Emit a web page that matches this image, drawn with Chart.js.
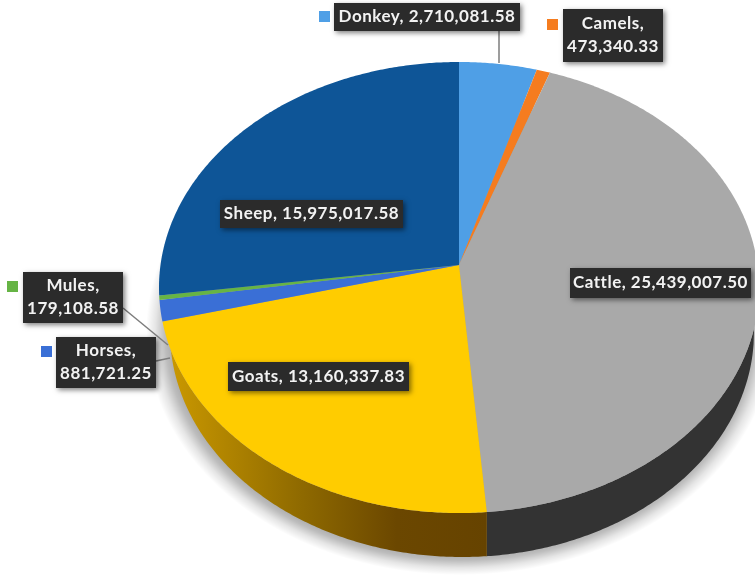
<!DOCTYPE html>
<html>
<head>
<meta charset="utf-8">
<title>Livestock population by type</title>
<style>
  html, body { margin: 0; padding: 0; background: #fff; }
  canvas { display: block; }
</style>
<script src="https://cdn.jsdelivr.net/npm/chart.js@4"></script>
</head>
<body>
<canvas id="pie" width="755" height="575"></canvas>
<script>
const categories = ['Donkey', 'Camels', 'Cattle', 'Goats', 'Horses', 'Mules', 'Sheep'];
const livestock = [2710081.58, 473340.33, 25439007.50, 13160337.83, 881721.25, 179108.58, 15975017.58];
const sliceColors = ['#4f9fe6', '#f57c1f', '#a9a9a9', '#ffcc00', '#3a6fd6', '#66b445', '#0e5597'];

// Tilted-disc geometry: the flat pie is seen from above with mild perspective.
const PERSPECTIVE = 0.0998;
const SQUASH = 0.748;
const STEP = Math.PI / 360;
// Lower edge of the extruded side wall.
const BASE = { cx: 462, cy: 332, rx: 292, ry: 225 };

function project(arc, angle, radius) {
  const u = Math.cos(angle), v = Math.sin(angle);
  const d = 1 - PERSPECTIVE * v;
  return { x: arc.x + radius * u / d, y: arc.y + radius * SQUASH * v / d };
}

function baseY(x, rimY) {
  const t = (x - BASE.cx) / BASE.rx;
  if (Math.abs(t) >= 1) return rimY;
  return Math.max(rimY, BASE.cy + BASE.ry * Math.sqrt(1 - t * t));
}

function wallFill(ctx, index) {
  if (categories[index] === 'Cattle') return '#333333';
  const g = ctx.createLinearGradient(165, 0, 487, 0);
  g.addColorStop(0, '#cc9a00');
  g.addColorStop(0.42, '#8f6a00');
  g.addColorStop(0.72, '#6b4700');
  g.addColorStop(1, '#664300');
  return g;
}

class ProjectedArc extends Chart.ArcElement {
  static id = 'projectedArc';

  rim() {
    const pts = [];
    for (let a = this.startAngle; a < this.endAngle; a += STEP) pts.push(project(this, a, this.outerRadius));
    pts.push(project(this, this.endAngle, this.outerRadius));
    return pts;
  }

  // Rim points on the near half of the disc, the only part whose wall shows.
  nearRim() {
    const pts = [];
    for (let a = this.startAngle; a < this.endAngle; a += STEP) {
      if (Math.sin(a) >= 0) pts.push(project(this, a, this.outerRadius));
    }
    if (Math.sin(this.endAngle) >= 0) pts.push(project(this, this.endAngle, this.outerRadius));
    return pts;
  }

  draw(ctx) {
    const rim = this.rim();
    const near = this.nearRim();
    const name = categories[this.$context.dataIndex];
    ctx.save();
    if (near.length > 1 && (name === 'Cattle' || name === 'Goats')) {
      ctx.beginPath();
      near.forEach((p, i) => i ? ctx.lineTo(p.x, p.y) : ctx.moveTo(p.x, p.y));
      for (let i = near.length - 1; i >= 0; i--) ctx.lineTo(near[i].x, baseY(near[i].x, near[i].y));
      ctx.closePath();
      ctx.fillStyle = wallFill(ctx, this.$context.dataIndex);
      ctx.fill();
    }
    ctx.beginPath();
    ctx.moveTo(this.x, this.y);
    rim.forEach(p => ctx.lineTo(p.x, p.y));
    ctx.closePath();
    ctx.fillStyle = this.options.backgroundColor;
    ctx.fill();
    ctx.restore();
  }
}

class ProjectedPieController extends Chart.PieController {
  static id = 'projectedPie';
  static defaults = { dataElementType: 'projectedArc' };
}

Chart.register(ProjectedArc, ProjectedPieController);

// Soft halo that the solid pie casts on the page, fading out past the base.
const castShadow = {
  id: 'castShadow',
  beforeDatasetsDraw(chart) {
    const ctx = chart.ctx;
    ctx.save();
    ctx.translate(BASE.cx - 2, BASE.cy);
    ctx.scale(BASE.rx + 22, BASE.ry + 18);
    const halo = ctx.createRadialGradient(0, 0, 0.9, 0, 0, 1);
    halo.addColorStop(0, 'rgba(0,0,0,0.38)');
    halo.addColorStop(0.4, 'rgba(0,0,0,0.26)');
    halo.addColorStop(0.7, 'rgba(0,0,0,0.1)');
    halo.addColorStop(1, 'rgba(0,0,0,0)');
    ctx.fillStyle = halo;
    ctx.beginPath();
    ctx.arc(0, 0, 1, 0, Math.PI * 2);
    ctx.fill();
    ctx.restore();
  }
};

// Callout placement for each category.
const callouts = {
  Donkey: { box: [334, 3, 186, 28], lines: 1, key: [319, 11], leader: [[499, 31], [499, 63]] },
  Camels: { box: [563, 9, 100, 53], lines: 2, key: [547, 19] },
  Cattle: { box: [570, 268, 181, 30], lines: 1 },
  Goats:  { box: [228, 362, 181, 29], lines: 1 },
  Horses: { box: [56, 337, 100, 51], lines: 2, key: [41, 346], leader: [[156, 361], [170, 358]] },
  Mules:  { box: [23, 272, 100, 51], lines: 2, key: [7, 281], leader: [[123, 308], [168, 345]] },
  Sheep:  { box: [220, 200, 183, 28], lines: 1 }
};

const formatValue = v => v.toLocaleString('en-US', { minimumFractionDigits: 2, maximumFractionDigits: 2 });

const calloutLabels = {
  id: 'calloutLabels',
  afterDatasetsDraw(chart) {
    const ctx = chart.ctx;
    categories.forEach((name, i) => {
      const c = callouts[name];
      const [x, y, w, h] = c.box;
      ctx.save();
      if (c.leader) {
        ctx.strokeStyle = '#7d7d7d';
        ctx.lineWidth = 1.5;
        ctx.beginPath();
        ctx.moveTo(c.leader[0][0], c.leader[0][1]);
        ctx.lineTo(c.leader[1][0], c.leader[1][1]);
        ctx.stroke();
      }
      if (c.key) {
        ctx.fillStyle = sliceColors[i];
        ctx.fillRect(c.key[0], c.key[1], 11, 11);
      }
      ctx.shadowColor = 'rgba(0,0,0,0.5)';
      ctx.shadowBlur = 5;
      ctx.shadowOffsetX = 2;
      ctx.shadowOffsetY = 2;
      ctx.fillStyle = '#2b2b2b';
      ctx.fillRect(x, y, w, h);
      ctx.shadowColor = 'transparent';
      ctx.fillStyle = '#f2f2f2';
      ctx.font = '700 17px Lato, Carlito, sans-serif';
      ctx.letterSpacing = '0.5px';
      ctx.textAlign = 'center';
      ctx.textBaseline = 'middle';
      const value = formatValue(livestock[i]);
      const cx = x + w / 2, cy = y + h / 2;
      if (c.lines === 2) {
        ctx.fillText(name + ',', cx, cy - 11.5);
        ctx.fillText(value, cx, cy + 11.5);
      } else {
        ctx.fillText(name + ', ' + value, cx, cy);
      }
      ctx.restore();
    });
  }
};

new Chart(document.getElementById('pie'), {
  type: 'projectedPie',
  data: {
    labels: categories,
    datasets: [{
      data: livestock,
      backgroundColor: sliceColors,
      borderWidth: 0,
      radius: 298.5
    }]
  },
  options: {
    responsive: false,
    animation: false,
    layout: { padding: { left: 163, right: 0, top: 0, bottom: 45 } },
    plugins: { legend: { display: false }, tooltip: { enabled: false } }
  },
  plugins: [castShadow, calloutLabels]
});
</script>
</body>
</html>
